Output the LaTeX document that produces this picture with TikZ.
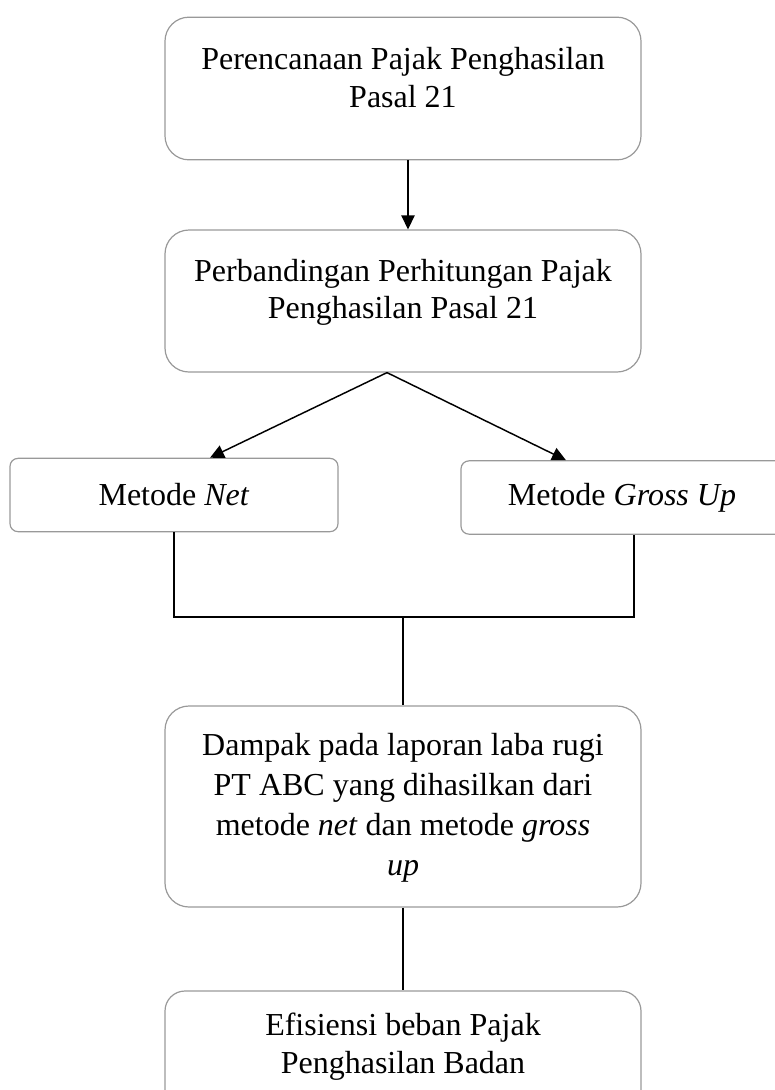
\documentclass[tikz,border=0pt]{standalone}
\usepackage{fontspec}
\setmainfont{Liberation Serif}
\usetikzlibrary{arrows.meta}

\tikzset{
	box/.style = {draw=black!40, line width=0.9pt, rounded corners=18pt, inner sep=0pt, minimum width=357pt},
	smallbox/.style = {box, rounded corners=6pt, minimum height=55pt},
	boxtext/.style = {inner sep=0pt, align=center},
	link/.style = {line width=1.1pt},
	arrow/.style = {link, -{Triangle[length=10.5pt, width=10pt]}}
}

\begin{document}
\begin{tikzpicture}[x=0.75pt, y=-0.75pt, font=\fontsize{24pt}{28pt}\selectfont]
	\useasboundingbox (0,0) rectangle (775,1090);

	% boxes
	\node[box, minimum height=107pt, label={[boxtext, below=23pt]north:Perencanaan Pajak Penghasilan\\Pasal 21}] (plan) at (403, 88.5) {};
	\node[box, minimum height=106.5pt, label={[boxtext, below=22pt]north:Perbandingan Perhitungan Pajak\\Penghasilan Pasal 21}] (compare) at (403, 301) {};
	\node[smallbox, minimum width=246pt] (net) at (174, 495) {Metode \textit{Net}};
	\node[smallbox, minimum width=241.5pt] (gross) at (622, 497.5) {Metode \textit{Gross Up}};
	\node[box, minimum height=150.75pt, label={[boxtext, below=21pt, font=\fontsize{24pt}{30pt}\selectfont]north:Dampak pada laporan laba rugi\\PT ABC yang dihasilkan dari\\metode \textit{net} dan metode \textit{gross}\\\textit{up}}] (impact) at (403, 806.5) {};
	\node[box, rounded corners=15pt, minimum height=93pt, label={[boxtext, below=17pt]north:Efisiensi beban Pajak\\Penghasilan Badan}] (result) at (403, 1053) {};

	% connectors
	\coordinate (join) at (403, 617);
	\draw[arrow] ([xshift=3.75pt]plan.south) -- ([xshift=3.75pt]compare.north);
	\draw[arrow] ([xshift=-12pt]compare.south) -- ([xshift=27pt]net.north);
	\draw[arrow] ([xshift=-12pt]compare.south) -- ([xshift=-42pt]gross.north);
	\draw[link] (net.south) |- (join) -| ([xshift=9pt]gross.south);
	\draw[link] (join) -- (impact.north);
	\draw[link] (impact.south) -- (result.north);
\end{tikzpicture}
\end{document}
